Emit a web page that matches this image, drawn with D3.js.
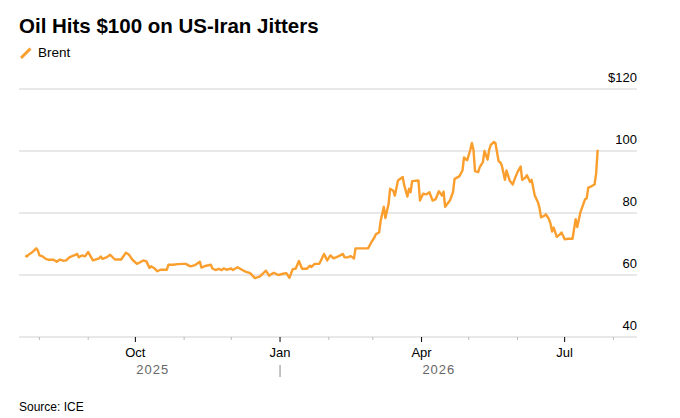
<!DOCTYPE html>
<html>
<head>
<meta charset="utf-8">
<script src="https://cdn.jsdelivr.net/npm/d3@7"></script>
<style>
  body { margin: 0; background: #fff; }
  text { font-family: "Liberation Sans", Arial, sans-serif; }
</style>
</head>
<body>
<svg id="chart" width="680" height="418"></svg>
<script>
// Brent
var dates = [
  '2025-07-23','2025-07-24','2025-07-25','2025-07-28','2025-07-30','2025-07-31','2025-08-01','2025-08-03',
  '2025-08-05','2025-08-07','2025-08-10','2025-08-12','2025-08-14','2025-08-16','2025-08-18','2025-08-20',
  '2025-08-23','2025-08-25','2025-08-26','2025-08-28','2025-08-30','2025-09-01','2025-09-04','2025-09-08',
  '2025-09-09','2025-09-10','2025-09-13','2025-09-15','2025-09-18','2025-09-22','2025-09-25','2025-09-27',
  '2025-09-29','2025-10-02','2025-10-04','2025-10-06','2025-10-08','2025-10-10','2025-10-11','2025-10-13',
  '2025-10-15','2025-10-17','2025-10-21','2025-10-22','2025-10-25','2025-10-28','2025-10-31','2025-11-02',
  '2025-11-05','2025-11-08','2025-11-11','2025-11-12','2025-11-15','2025-11-18','2025-11-19','2025-11-21',
  '2025-11-23','2025-11-25','2025-11-26','2025-11-28','2025-12-01','2025-12-02','2025-12-05','2025-12-08',
  '2025-12-10','2025-12-13','2025-12-16','2025-12-19','2025-12-21','2025-12-23','2025-12-25','2025-12-28',
  '2025-12-31','2026-01-03','2026-01-05','2026-01-07','2026-01-09','2026-01-11','2026-01-13','2026-01-15',
  '2026-01-18','2026-01-20','2026-01-21','2026-01-23','2026-01-26','2026-01-29','2026-01-31','2026-02-02',
  '2026-02-04','2026-02-07','2026-02-10','2026-02-11','2026-02-13','2026-02-15','2026-02-17','2026-02-18',
  '2026-02-22','2026-02-26','2026-02-28','2026-03-02','2026-03-03','2026-03-05','2026-03-06','2026-03-08',
  '2026-03-09','2026-03-11','2026-03-12','2026-03-14','2026-03-15','2026-03-17','2026-03-20','2026-03-21',
  '2026-03-23','2026-03-24','2026-03-25','2026-03-26','2026-03-30','2026-03-31','2026-04-02','2026-04-04',
  '2026-04-06','2026-04-08','2026-04-10','2026-04-12','2026-04-14','2026-04-15','2026-04-16','2026-04-19',
  '2026-04-21','2026-04-22','2026-04-25','2026-04-27','2026-04-28','2026-04-30','2026-05-02','2026-05-03',
  '2026-05-04','2026-05-05','2026-05-07','2026-05-08','2026-05-10','2026-05-11','2026-05-13','2026-05-14',
  '2026-05-15','2026-05-17','2026-05-18','2026-05-20','2026-05-21','2026-05-22','2026-05-24','2026-05-25',
  '2026-05-27','2026-05-29','2026-05-30','2026-06-01','2026-06-03','2026-06-04','2026-06-06','2026-06-07',
  '2026-06-09','2026-06-10','2026-06-12','2026-06-14','2026-06-15','2026-06-16','2026-06-18','2026-06-19',
  '2026-06-21','2026-06-22','2026-06-23','2026-06-24','2026-06-26','2026-06-28','2026-06-29','2026-07-01',
  '2026-07-03','2026-07-06','2026-07-08','2026-07-09','2026-07-11','2026-07-14','2026-07-15','2026-07-16',
  '2026-07-18','2026-07-20','2026-07-21','2026-07-22'
];
var brent = [
  66.3, 66.0, 66.5, 67.6, 68.6, 67.9, 66.3, 66.0,
  65.2, 64.9, 64.9, 64.3, 65.0, 64.6, 64.7, 65.7,
  66.3, 66.8, 65.7, 66.3, 66.0, 67.4, 64.7, 65.4,
  66.0, 65.2, 65.8, 66.5, 65.0, 65.0, 67.2, 66.5,
  65.0, 63.6, 64.1, 64.7, 64.4, 62.3, 62.8, 62.2,
  61.2, 61.7, 61.7, 63.3, 63.3, 63.5, 63.6, 63.6,
  62.8, 63.2, 64.3, 62.4, 63.0, 63.3, 62.1, 61.6,
  62.0, 61.6, 62.1, 61.7, 62.1, 61.6, 62.5, 61.6,
  61.1, 60.6, 59.0, 59.5, 60.4, 61.4, 59.8, 60.7,
  60.0, 60.4, 60.6, 59.1, 61.8, 62.1, 64.5, 62.0,
  62.0, 63.0, 62.6, 63.6, 63.6, 66.8, 64.7, 66.3,
  65.4, 66.0, 66.8, 65.7, 65.7, 66.1, 65.3, 68.6,
  68.6, 68.6, 70.5, 72.1, 73.2, 73.7, 77.5, 82.0,
  78.4, 82.9, 87.8, 87.2, 85.6, 90.5, 91.6, 88.9,
  85.3, 87.8, 86.7, 90.3, 90.5, 84.0, 86.2, 86.0,
  86.7, 84.0, 84.5, 87.0, 85.6, 86.9, 82.0, 84.0,
  86.7, 91.0, 91.8, 93.7, 97.9, 97.0, 100.4, 102.6,
  100.4, 93.5, 93.2, 94.8, 96.4, 100.0, 97.2, 100.4,
  102.0, 102.9, 102.5, 96.7, 96.4, 95.4, 90.7, 93.7,
  90.5, 89.2, 90.7, 93.2, 95.0, 90.7, 91.4, 92.2,
  90.0, 90.7, 85.6, 83.5, 81.6, 78.6, 79.1, 79.6,
  78.0, 76.6, 74.0, 75.3, 72.3, 73.1, 73.7, 71.5,
  71.7, 71.7, 78.0, 75.5, 80.2, 84.5, 84.7, 88.2,
  88.6, 89.2, 92.7, 100.4
];
var yTicks = [40, 60, 80, 100, 120];
var majorMonths = ['2025-10-01', '2026-01-01', '2026-04-01', '2026-07-01'];
var years = ['2025', '2026'];

var parse = d3.timeParse('%Y-%m-%d');
var data = dates.map(function (d, i) { return { date: parse(d), value: brent[i] }; });

var svg = d3.select('#chart');
var plotLeft = 19, plotRight = 637, plotTop = 89, plotBottom = 337;
var orange = '#fa9e2e';

var x = d3.scaleTime()
    .domain([parse('2025-07-19'), parse('2026-08-16')])
    .range([plotLeft, plotRight]);
var y = d3.scaleLinear().domain([40, 120]).range([plotBottom, plotTop]);

// title + legend
svg.append('text')
    .attr('x', 19).attr('y', 33)
    .style('font-size', '20.5px').style('font-weight', 'bold').style('fill', '#000')
    .text('Oil Hits $100 on US-Iran Jitters');
svg.append('line')
    .attr('x1', 21).attr('y1', 58).attr('x2', 30.5).attr('y2', 48.5)
    .style('stroke', orange).style('stroke-width', 3).style('stroke-linecap', 'butt');
svg.append('text')
    .attr('x', 38).attr('y', 57)
    .style('font-size', '13.5px').style('fill', '#000')
    .text('Brent');

// grid
svg.append('g').selectAll('line')
    .data(yTicks)
    .enter().append('line')
    .attr('x1', plotLeft).attr('x2', plotRight)
    .attr('y1', function (d) { return y(d); })
    .attr('y2', function (d) { return y(d); })
    .style('stroke', '#e1e1e1').style('stroke-width', 1.5);

svg.append('g').selectAll('text')
    .data(yTicks)
    .enter().append('text')
    .attr('x', plotRight).attr('y', function (d) { return y(d) - 7; })
    .attr('text-anchor', 'end')
    .style('font-size', '13px').style('fill', '#000')
    .text(function (d) { return d === 120 ? '$' + d : d; });

// x axis
var months = d3.timeMonth.range(x.domain()[0], x.domain()[1]);
var majorSet = majorMonths.map(function (d) { return +parse(d); });
var isMajor = function (d) { return majorSet.indexOf(+d) >= 0; };

var xa = svg.append('g').attr('transform', 'translate(0,' + plotBottom + ')');
xa.selectAll('line.tick')
    .data(months)
    .enter().append('line')
    .attr('class', 'tick')
    .attr('x1', function (d) { return x(d); })
    .attr('x2', function (d) { return x(d); })
    .attr('y1', 0)
    .attr('y2', function (d) { return isMajor(d) ? 5 : 3; })
    .style('stroke', function (d) { return isMajor(d) ? '#000' : '#bbb'; })
    .style('stroke-width', 1);
xa.selectAll('text.month')
    .data(months.filter(isMajor))
    .enter().append('text')
    .attr('class', 'month')
    .attr('x', function (d) { return x(d); })
    .attr('y', 20)
    .attr('text-anchor', 'middle')
    .style('font-size', '13px').style('fill', '#000')
    .text(d3.timeFormat('%b'));

// year labels centred over each year's data
var first = data[0].date, last = data[data.length - 1].date, jan = parse('2026-01-01');
var yearPos = [(x(first) + x(jan)) / 2, (x(jan) + x(last)) / 2];
xa.selectAll('text.year')
    .data(years)
    .enter().append('text')
    .attr('class', 'year')
    .attr('x', function (d, i) { return yearPos[i]; })
    .attr('y', 37)
    .attr('text-anchor', 'middle')
    .style('font-size', '13px').style('fill', '#666').style('letter-spacing', '1px')
    .text(function (d) { return d; });
xa.append('line')
    .attr('x1', x(jan)).attr('x2', x(jan))
    .attr('y1', 28).attr('y2', 40)
    .style('stroke', '#888').style('stroke-width', 1);

// line
var line = d3.line()
    .x(function (d) { return x(d.date); })
    .y(function (d) { return y(d.value); });
svg.append('path')
    .datum(data)
    .attr('d', line)
    .style('fill', 'none')
    .style('stroke', orange)
    .style('stroke-width', 2.4)
    .style('stroke-linejoin', 'round');

svg.append('text')
    .attr('x', 19).attr('y', 411)
    .style('font-size', '12px').style('fill', '#000')
    .text('Source: ICE');
</script>
</body>
</html>
